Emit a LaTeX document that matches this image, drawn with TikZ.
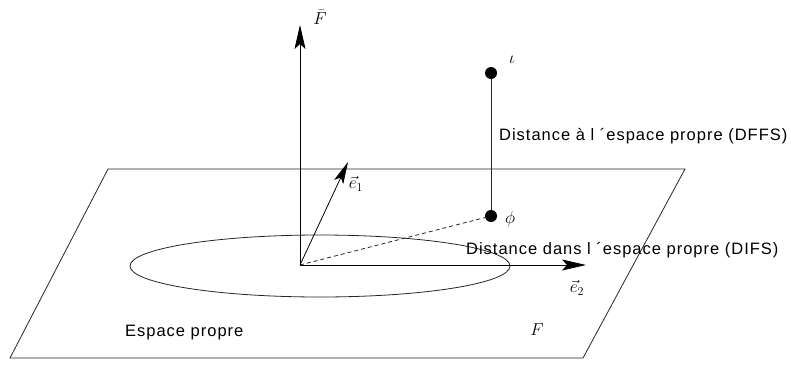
\documentclass[tikz,border=0pt]{standalone}
\usepackage{fontspec}
\usetikzlibrary{arrows.meta}
\newfontfamily\labfont[LetterSpace=6]{Liberation Sans}
\begin{document}
\begin{tikzpicture}[x=1pt,y=-1pt,
  thinline/.style={line width=0.8pt,black!85},
  axis/.style={line width=0.8pt,black,-{Stealth[length=24pt,width=11pt,inset=5pt]}},
  dotnode/.style={circle,fill=black,inner sep=0pt,minimum size=12pt},
  txt/.style={font=\labfont\fontsize{16.5}{18}\selectfont,inner sep=0pt,anchor=west},
  mlab/.style={font=\fontsize{17}{19}\selectfont,inner sep=0pt}]
\useasboundingbox (0,0) rectangle (791,364);
% plane
\coordinate (P1) at (108,169);
\coordinate (P2) at (685,169);
\coordinate (P3) at (583,358);
\coordinate (P4) at (10,358);
\draw[thinline] (P1) -- (P2) -- (P3) -- (P4) -- cycle;
% ellipse
\draw[thinline] (320,266) ellipse [x radius=190, y radius=31];
% origin and axes
\coordinate (O) at (300,265);
\coordinate (Ftip) at (300,25);
\coordinate (E1tip) at (348,162);
\coordinate (E2tip) at (586,265);
\draw[axis] (O) -- (Ftip);
\draw[axis,-{Stealth[length=22pt,width=10pt,inset=5pt]}] (O) -- (E1tip);
\draw[axis] (O) -- (E2tip);
% points
\node[dotnode] (iota) at (491,73) {};
\node[dotnode] (phi) at (491,216) {};
\draw[thinline] (iota) -- (phi);
\draw[thinline,dashed,dash pattern=on 4pt off 3pt] (O) -- (phi);
% labels
\node[mlab] (Fbar) at (320,17) {$\bar{F}$};
\node[mlab] (e1) at (356,184) {$\vec{e}_1$};
\node[mlab] (e2) at (577,288) {$\vec{e}_2$};
\node[mlab] (iotal) at (512,60) {$\iota$};
\node[mlab] (phil) at (510,219) {$\phi$};
\node[mlab] (Fl) at (537,330) {$F$};
\node[txt] (dffs) at (499,136) {Distance à l ´espace propre (DFFS)};
\node[txt] (difs) at (466,250) {Distance dans l ´espace propre (DIFS)};
\node[txt] (esp) at (125,333) {Espace propre};
\end{tikzpicture}
\end{document}
